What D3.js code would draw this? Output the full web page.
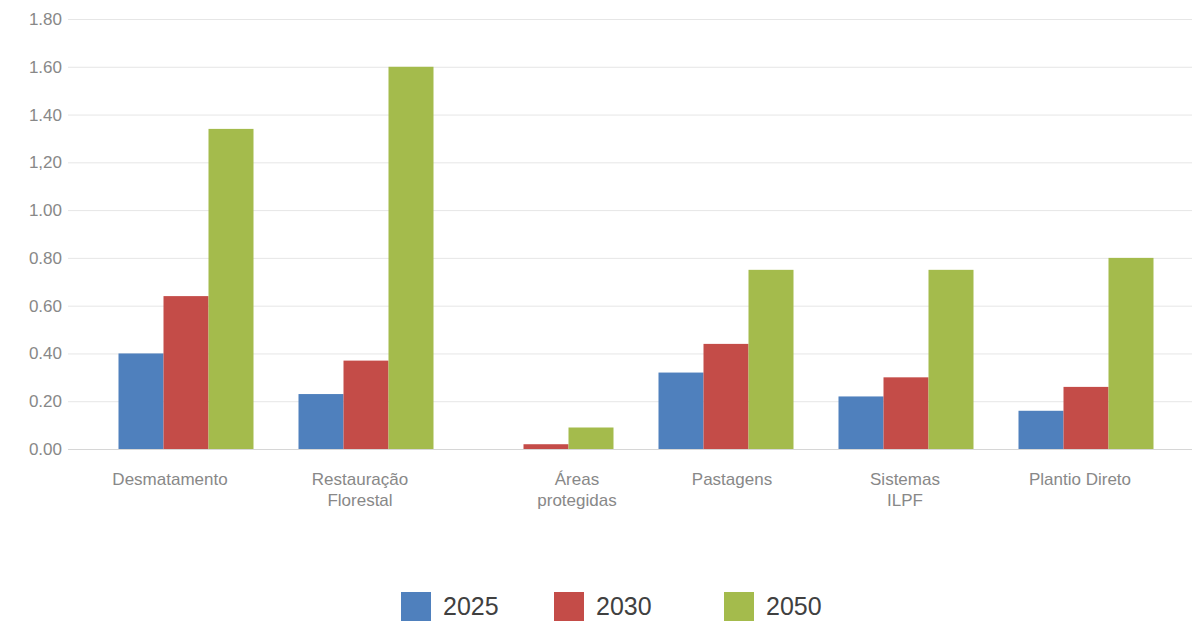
<!DOCTYPE html>
<html>
<head>
<meta charset="utf-8">
<script src="https://cdn.jsdelivr.net/npm/d3@7"></script>
<style>
  body { margin: 0; background: #fff; }
  svg { display: block; font-family: "Liberation Sans", Arial, sans-serif; }
</style>
</head>
<body>
<svg id="main-svg"></svg>
<script>
// data
let categories = [['Desmatamento'], ['Restauração', 'Florestal'], ['Áreas', 'protegidas'], ['Pastagens'], ['Sistemas', 'ILPF'], ['Plantio Direto']];
let years = ['2025', '2030', '2050'];
let values2025 = [0.40, 0.23, 0, 0.32, 0.22, 0.16];
let values2030 = [0.64, 0.37, 0.02, 0.44, 0.30, 0.26];
let values2050 = [1.34, 1.60, 0.09, 0.75, 0.75, 0.80];
let tickValues = [0, 0.2, 0.4, 0.6, 0.8, 1.0, 1.2, 1.4, 1.6, 1.8];
let tickLabels = ['0.00', '0.20', '0.40', '0.60', '0.80', '1.00', '1,20', '1.40', '1.60', '1.80'];
let colors = ['#4f80bd', '#c44c48', '#a4bb4c'];

let width = 1192;
let height = 621;
let series = [values2025, values2030, values2050];
// the original labels are not quite centred under their bars
let labelShift = [-16, -6, 31, 6, -1, -6];

let svg = d3.select('#main-svg')
  .attr('width', width)
  .attr('height', height);

let x = d3.scaleBand()
  .domain(d3.range(categories.length))
  .range([96, 1176])
  .paddingInner(0.25)
  .paddingOuter(0.125);

let xSub = d3.scaleBand()
  .domain(years)
  .range([0, x.bandwidth()]);

let y = d3.scaleLinear()
  .domain([0, 1.8])
  .range([449, 19]);

// grid lines + y labels
let yAxis = svg.append('g')
  .attr('transform', 'translate(68,0)')
  .call(d3.axisLeft(y)
    .tickValues(tickValues)
    .tickSize(-(width - 68))
    .tickPadding(6)
    .tickFormat((d, i) => tickLabels[i]));
yAxis.select('.domain').remove();
yAxis.selectAll('.tick line')
  .attr('stroke', d => d === 0 ? '#d6d6d6' : '#e6e6e6')
  .attr('stroke-width', 1);
yAxis.selectAll('.tick text')
  .attr('fill', '#888')
  .style('font-size', '17px');

// bars
let groups = svg.append('g').selectAll('g')
  .data(series)
  .join('g')
    .attr('fill', (d, i) => colors[i]);

groups.selectAll('rect')
  .data((s, si) => s.map((v, ci) => ({ v: v, ci: ci, year: years[si] })))
  .join('rect')
    .attr('x', d => x(d.ci) + xSub(d.year))
    .attr('y', d => y(d.v))
    .attr('width', xSub.bandwidth())
    .attr('height', d => y(0) - y(d.v));

// category labels
let labels = svg.append('g').selectAll('text')
  .data(categories)
  .join('text')
    .attr('x', (d, i) => x(i) + x.bandwidth() / 2 + labelShift[i])
    .attr('y', 485)
    .attr('text-anchor', 'middle')
    .attr('fill', '#888')
    .style('font-size', '17px');
labels.selectAll('tspan')
  .data(d => d)
  .join('tspan')
    .attr('x', function() { return d3.select(this.parentNode).attr('x'); })
    .attr('dy', (d, i) => i === 0 ? 0 : 21)
    .text(d => d);

// legend
let legendX = [401, 554, 724];
let legend = svg.append('g').selectAll('g')
  .data(years)
  .join('g')
    .attr('transform', (d, i) => `translate(${legendX[i]},592)`);
legend.append('rect')
  .attr('width', 30)
  .attr('height', 29)
  .attr('fill', (d, i) => colors[i]);
legend.append('text')
  .attr('x', 42)
  .attr('y', 23)
  .attr('fill', '#404040')
  .style('font-size', '25px')
  .text(d => d);
</script>
</body>
</html>
